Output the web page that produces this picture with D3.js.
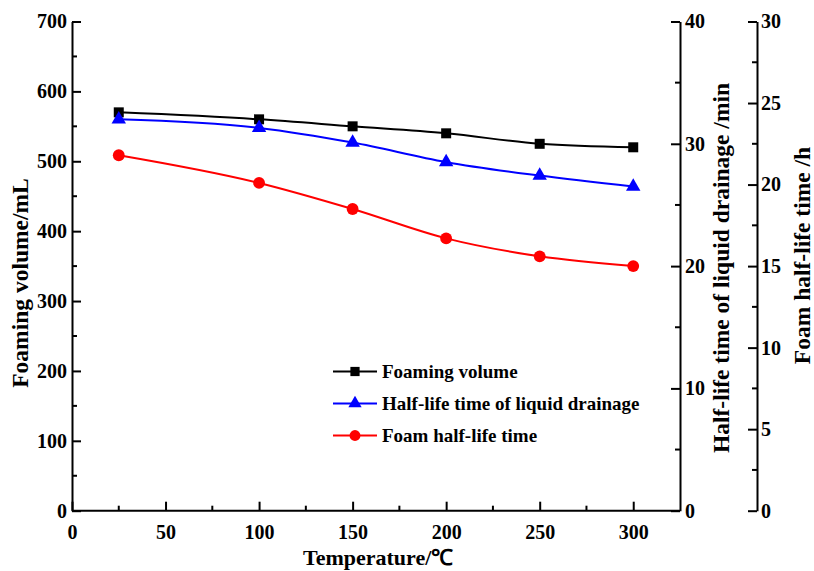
<!DOCTYPE html>
<html>
<head>
<meta charset="utf-8">
<script src="https://cdn.jsdelivr.net/npm/d3@7"></script>
<style>
  html, body { margin: 0; padding: 0; background: #fff; }
  svg { display: block; }
  text { font-family: "Liberation Serif", "Times New Roman", serif; font-weight: bold; fill: #000; }
</style>
</head>
<body>
<svg id="chart" width="814" height="571"></svg>
<script>
// Temperatures (°C) at which the foam was measured
const temperatures = [25, 100, 150, 200, 250, 300];
// Foaming volume, mL (left axis)
const foamingVolume = [570, 560, 550, 540, 525, 520];
// Half-life time of liquid drainage, min (first right axis)
const drainageHalfLife = [32.0, 31.3, 30.1, 28.5, 27.4, 26.5];
// Foam half-life time, h (second right axis)
const foamHalfLife = [21.8, 20.1, 18.5, 16.7, 15.6, 15.0];

const xTicks = [0, 50, 100, 150, 200, 250, 300];
const volumeTicks = [0, 100, 200, 300, 400, 500, 600, 700];
const drainageTicks = [0, 10, 20, 30, 40];
const foamTicks = [0, 5, 10, 15, 20, 25, 30];

const seriesNames = ["Foaming volume", "Half-life time of liquid drainage", "Foam half-life time"];

const svg = d3.select("#chart");

const plotLeft = 72, plotRight = 680, plotTop = 21.5, plotBottom = 510.7;
const axis3X = 757;

const x = d3.scaleLinear().domain([0, 325]).range([plotLeft, plotRight]);
const yVol = d3.scaleLinear().domain([0, 700]).range([plotBottom, plotTop]);
const yDrain = d3.scaleLinear().domain([0, 40]).range([plotBottom, plotTop]);
const yFoam = d3.scaleLinear().domain([0, 30]).range([plotBottom, plotTop]);

const tickFont = 20;
const majorLen = 9, minorLen = 5;

function styleAxis(g) {
  g.attr("font-family", null).attr("font-size", null);
  g.selectAll("path.domain").attr("stroke", "#000").attr("stroke-width", 2);
  g.selectAll(".tick line").attr("stroke", "#000").attr("stroke-width", 2);
  g.selectAll(".tick text")
    .attr("font-size", tickFont)
    .attr("fill", "#000");
}

// minor ticks, always drawn toward the plot area
function minor(g, values, scale, orient, len) {
  g.selectAll(null).data(values).enter().append("line")
    .attr("stroke", "#000").attr("stroke-width", 2)
    .each(function (d) {
      const s = d3.select(this);
      if (orient === "x") {
        s.attr("x1", scale(d)).attr("x2", scale(d)).attr("y1", 0).attr("y2", -len);
      } else {
        s.attr("y1", scale(d)).attr("y2", scale(d)).attr("x1", 0).attr("x2", len);
      }
    });
}

// Bottom axis
const gx = svg.append("g").attr("transform", `translate(0,${plotBottom})`)
  .call(d3.axisBottom(x).tickValues(xTicks).tickSizeInner(-majorLen).tickSizeOuter(0).tickPadding(14));
gx.select("path.domain").attr("d", `M${plotLeft},0H${plotRight}`);
styleAxis(gx);
minor(gx, [25, 75, 125, 175, 225, 275], x, "x", minorLen);

// Left axis: foaming volume
const gyL = svg.append("g").attr("transform", `translate(${plotLeft},0)`)
  .call(d3.axisLeft(yVol).tickValues(volumeTicks).tickSizeInner(-majorLen).tickSizeOuter(0).tickPadding(5));
styleAxis(gyL);
minor(gyL, [50, 150, 250, 350, 450, 550, 650], yVol, "y", minorLen);

// First right axis: drainage half-life
const gyR1 = svg.append("g").attr("transform", `translate(${plotRight},0)`)
  .call(d3.axisRight(yDrain).tickValues(drainageTicks).tickSizeInner(-majorLen).tickSizeOuter(0).tickPadding(5));
styleAxis(gyR1);
minor(gyR1, [5, 15, 25, 35], yDrain, "y", -minorLen);

// Second right axis: foam half-life
const gyR2 = svg.append("g").attr("transform", `translate(${axis3X},0)`)
  .call(d3.axisRight(yFoam).tickValues(foamTicks).tickSizeInner(-majorLen).tickSizeOuter(0).tickPadding(4));
styleAxis(gyR2);
minor(gyR2, [2.5, 7.5, 12.5, 17.5, 22.5, 27.5], yFoam, "y", -minorLen);

// Axis titles
svg.append("text").attr("x", 303).attr("y", 565)
  .attr("font-size", 22).text("Temperature/℃");
svg.append("text").attr("transform", "translate(28,283) rotate(-90)").attr("text-anchor", "middle")
  .attr("font-size", 23.5).text("Foaming volume/mL");
svg.append("text").attr("transform", "translate(728.5,268) rotate(-90)").attr("text-anchor", "middle")
  .attr("font-size", 23.5).text("Half-life time of liquid drainage /min");
svg.append("text").attr("transform", "translate(810,255.5) rotate(-90)").attr("text-anchor", "middle")
  .attr("font-size", 23.5).text("Foam half-life time /h");

// Series
const series = [
  { name: seriesNames[0], values: foamingVolume, y: yVol, color: "#000000", marker: d3.symbolSquare, size: 100 },
  { name: seriesNames[1], values: drainageHalfLife, y: yDrain, color: "#0000ff", marker: d3.symbolTriangle, size: 90 },
  { name: seriesNames[2], values: foamHalfLife, y: yFoam, color: "#ff0000", marker: d3.symbolCircle, size: 110 }
];

series.forEach(s => {
  const pts = temperatures.map((t, i) => [t, s.values[i]]);
  const line = d3.line().x(d => x(d[0])).y(d => s.y(d[1])).curve(d3.curveMonotoneX);
  svg.append("path").datum(pts).attr("d", line)
    .attr("fill", "none").attr("stroke", s.color).attr("stroke-width", 2);
  svg.selectAll(null).data(pts).enter().append("path")
    .attr("transform", d => `translate(${x(d[0])},${s.y(d[1])})`)
    .attr("d", d3.symbol().type(s.marker).size(s.size)).attr("fill", s.color);
});

// Legend
const legend = svg.append("g");
series.forEach((s, i) => {
  const yy = 371.5 + i * 32;
  legend.append("line").attr("x1", 333).attr("x2", 377).attr("y1", yy).attr("y2", yy)
    .attr("stroke", s.color).attr("stroke-width", 2);
  legend.append("path").attr("transform", `translate(355,${yy})`)
    .attr("d", d3.symbol().type(s.marker).size(s.size * 0.85))
    .attr("fill", s.color);
  legend.append("text").attr("x", 382).attr("y", yy + 6.5).attr("font-size", 19).text(s.name);
});
</script>
</body>
</html>
